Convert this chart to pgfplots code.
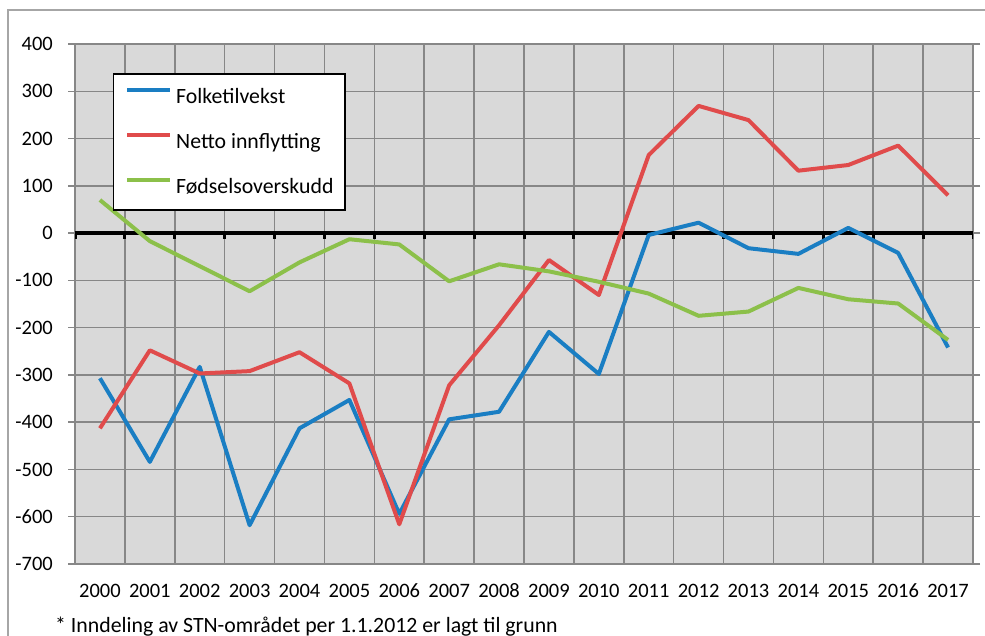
\documentclass[border=0pt]{standalone}
\usepackage{pgfplots}
\pgfplotsset{compat=1.18}
\usepackage{fontspec}
\setmainfont{Carlito}

\definecolor{cBlue}{HTML}{1A7EC3}
\definecolor{cRed}{HTML}{E04B4B}
\definecolor{cGreen}{HTML}{8CC04A}
\definecolor{cBg}{HTML}{D9D9D9}
\definecolor{cGrid}{HTML}{878787}
\definecolor{cFrame}{HTML}{A6A6A6}

\begin{document}
\fontsize{21.8bp}{26bp}\selectfont
\begin{tikzpicture}
\path[use as bounding box] (0,0) rectangle (985bp,636bp);
\draw[cFrame, line width=1.5bp] (8bp,-5bp) -- (8bp,626bp) -- (990bp,626bp);

\begin{axis}[
    at={(75bp,72bp)}, anchor=south west,
    scale only axis,
    width=898bp, height=520bp,
    xmin=-0.5, xmax=17.5,
    ymin=-700, ymax=400,
    xtick={0,...,17},
    xticklabels={2000,2001,2002,2003,2004,2005,2006,2007,2008,2009,2010,2011,2012,2013,2014,2015,2016,2017},
    minor xtick={-0.5,0.5,...,17.5},
    ytick={-700,-600,...,400},
    xmajorgrids=false, xminorgrids=true, ymajorgrids=true,
    major x tick style={draw=none},
    minor x tick style={draw=none},
    y tick style={cGrid, line width=1.5bp},
    major tick length=7bp,
    tick align=outside,
    grid style={cGrid, line width=1.5bp},
    minor grid style={cGrid, line width=1.5bp},
    axis line style={cGrid, line width=1.5bp},
    axis background/.style={fill=cBg},
    /pgf/number format/assume math mode=true,
    xticklabel style={anchor=base, inner sep=0pt, yshift=-27bp},
    yticklabel style={anchor=east, inner sep=0pt, xshift=-15bp},
    tick label style={font=\fontsize{20.5bp}{24bp}\selectfont},
    legend cell align=left,
    legend style={at={(0.0423,0.944)}, anchor=north west, draw=black, line width=1.5bp,
        fill=white, inner sep=11.5bp, row sep=22bp, column sep=4bp,
        nodes={inner sep=0pt, text height=18bp, text depth=5bp,
               font=\fontsize{21.8bp}{26bp}\selectfont}},
    legend image code/.code={\draw[#1] (0bp,6.5bp) -- (43bp,6.5bp);},
    every axis plot/.append style={line width=4bp, line join=round},
]
\draw[black, line width=3.5bp] (axis cs:-0.5,0) -- (axis cs:17.5,0);
\foreach \k in {-0.5,0.5,...,17.5}{
  \edef\temp{\noexpand\draw[black, line width=3bp] (axis cs:\k,0) -- ([yshift=-6bp]axis cs:\k,0);}\temp
}
\addplot[cBlue] coordinates {
 (0,-307) (1,-484) (2,-283) (3,-618) (4,-413) (5,-353) (6,-594) (7,-394) (8,-378)
 (9,-209) (10,-298) (11,-4) (12,22) (13,-32) (14,-44) (15,11) (16,-42) (17,-242)
};
\addplot[cRed] coordinates {
 (0,-413) (1,-248) (2,-297) (3,-292) (4,-252) (5,-318) (6,-616) (7,-322) (8,-195)
 (9,-57) (10,-131) (11,165) (12,269) (13,239) (14,132) (15,144) (16,185) (17,80)
};
\addplot[cGreen] coordinates {
 (0,70) (1,-17) (2,-70) (3,-123) (4,-62) (5,-13) (6,-24) (7,-102) (8,-66)
 (9,-81) (10,-103) (11,-128) (12,-175) (13,-166) (14,-116) (15,-140) (16,-149) (17,-226)
};
\legend{Folketilvekst, Netto innflytting, Fødselsoverskudd}
\end{axis}

\node[anchor=base west, inner sep=0pt] at (55bp,4bp) {* Inndeling av STN-området per 1.1.2012 er lagt til grunn};
\end{tikzpicture}
\end{document}
